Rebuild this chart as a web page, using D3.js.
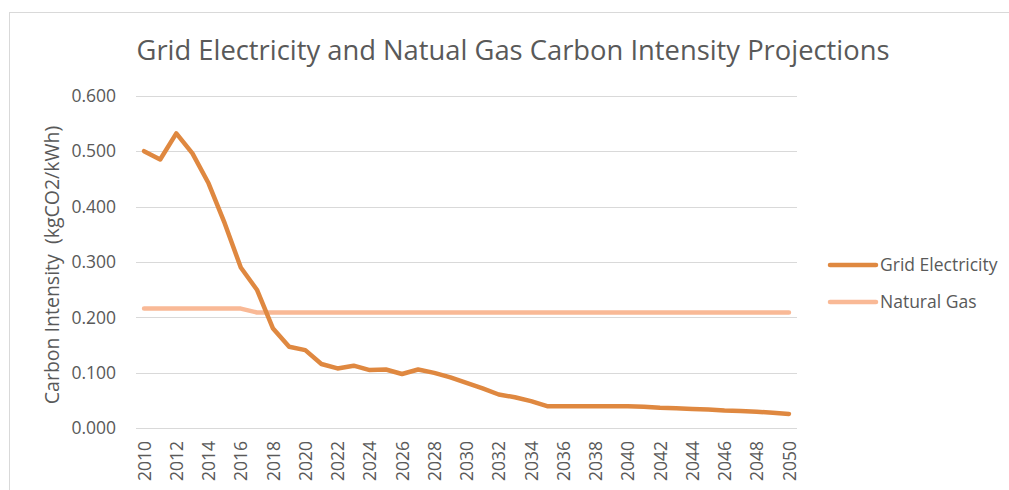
<!DOCTYPE html>
<html>
<head>
<meta charset="utf-8">
<script src="https://cdn.jsdelivr.net/npm/d3@7"></script>
<style>
  body { margin: 0; background: #fff; }
  text { font-family: "Open Sans", "Noto Sans", sans-serif; fill: #595959; }
</style>
</head>
<body>
<svg id="chart" width="1009" height="490"></svg>
<script>
// Data
const years = d3.range(2010, 2051);
const gridElectricity = [
    0.500, 0.485, 0.532, 0.496, 0.442, 0.370, 0.290, 0.250, 0.180, 0.147,
    0.141, 0.116, 0.108, 0.113, 0.105, 0.106, 0.098, 0.106, 0.100, 0.092,
    0.082, 0.072, 0.061, 0.056, 0.049, 0.040, 0.040, 0.040, 0.040, 0.040,
    0.040, 0.039, 0.037, 0.036, 0.035, 0.034, 0.032, 0.031, 0.030, 0.028,
    0.026
];
const naturalGas = [
    0.216, 0.216, 0.216, 0.216, 0.216, 0.216, 0.216, 0.209, 0.209, 0.209,
    0.209, 0.209, 0.209, 0.209, 0.209, 0.209, 0.209, 0.209, 0.209, 0.209,
    0.209, 0.209, 0.209, 0.209, 0.209, 0.209, 0.209, 0.209, 0.209, 0.209,
    0.209, 0.209, 0.209, 0.209, 0.209, 0.209, 0.209, 0.209, 0.209, 0.209,
    0.209
];
const yTicks = [0, 0.1, 0.2, 0.3, 0.4, 0.5, 0.6];
const xTicks = d3.range(2010, 2051, 2);

const series = [
    { name: 'Grid Electricity', values: gridElectricity, color: '#df8840' },
    { name: 'Natural Gas', values: naturalGas, color: '#f9b996' }
];

const svg = d3.select('#chart');

// Chart border
svg.append('rect')
    .attr('x', 9.5).attr('y', 12.5)
    .attr('width', 1010).attr('height', 500)
    .attr('fill', 'none').attr('stroke', '#d9d9d9');

// Scales
const x = d3.scalePoint().domain(years).range([136, 797]).padding(0.5);
const y = d3.scaleLinear().domain([0, 0.6]).range([428.3, 95.7]);

// Gridlines
svg.append('g').selectAll('line').data(yTicks).enter().append('line')
    .attr('x1', 136).attr('x2', 797)
    .attr('y1', (d) => Math.round(y(d)) + 0.5)
    .attr('y2', (d) => Math.round(y(d)) + 0.5)
    .attr('stroke', '#d9d9d9').attr('stroke-width', 1);

// Y axis labels
const yAxis = d3.axisLeft(y).tickValues(yTicks).tickFormat(d3.format('.3f')).tickSize(0).tickPadding(0);
svg.append('g')
    .attr('transform', 'translate(116,0)')
    .call(yAxis)
    .call((g) => g.select('.domain').remove())
    .call((g) => g.selectAll('text')
        .attr('fill', '#595959')
        .style('font-family', '"Open Sans", sans-serif')
        .style('font-size', '17.5px'));

// X axis labels
const xAxis = d3.axisBottom(x).tickValues(xTicks).tickSize(0).tickPadding(0);
svg.append('g')
    .attr('transform', 'translate(0,441)')
    .call(xAxis)
    .call((g) => g.select('.domain').remove())
    .call((g) => g.selectAll('text')
        .attr('fill', '#595959')
        .style('font-family', '"Open Sans", sans-serif')
        .style('font-size', '17.5px')
        .attr('text-anchor', 'end')
        .attr('dy', '0.35em')
        .attr('y', 0)
        .attr('transform', 'rotate(-90)'));

// Lines (gas under electricity)
const line = d3.line().x((d, i) => x(years[i])).y((d) => y(d));
svg.append('g').selectAll('path').data(series.slice().reverse()).enter().append('path')
    .attr('d', (s) => line(s.values))
    .attr('fill', 'none')
    .attr('stroke', (s) => s.color)
    .attr('stroke-width', 4.5)
    .attr('stroke-linejoin', 'round')
    .attr('stroke-linecap', 'round');

// Title
svg.append('text')
    .attr('x', 513).attr('y', 60)
    .attr('text-anchor', 'middle')
    .attr('textLength', 753)
    .attr('lengthAdjust', 'spacingAndGlyphs')
    .style('font-size', '27px')
    .text('Grid Electricity and Natual Gas Carbon Intensity Projections');

// Y axis title
svg.append('text')
    .attr('transform', 'translate(59,265) rotate(-90)')
    .attr('text-anchor', 'middle')
    .style('font-size', '19.5px')
    .style('white-space', 'pre')
    .text('Carbon Intensity  (kgCO2/kWh)');

// Legend
const legend = svg.append('g').selectAll('g').data(series).enter().append('g')
    .attr('transform', (s, i) => `translate(830,${265 + i * 37})`);
legend.append('line')
    .attr('x1', 0).attr('x2', 46)
    .attr('stroke', (s) => s.color)
    .attr('stroke-width', 4.5)
    .attr('stroke-linecap', 'round');
legend.append('text')
    .attr('x', 50).attr('dy', '0.35em')
    .style('font-size', '17.5px')
    .text((s) => s.name);
</script>
</body>
</html>
